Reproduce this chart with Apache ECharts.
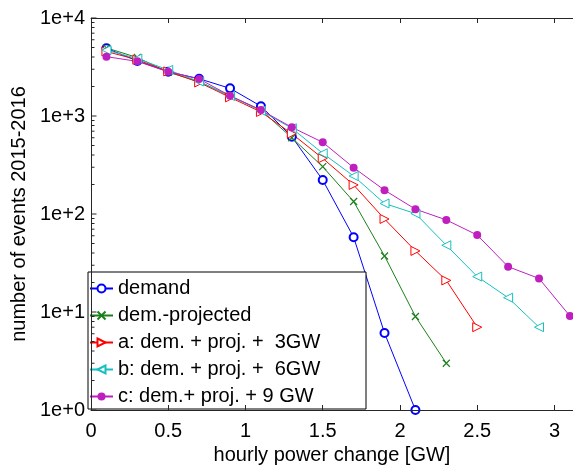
<!DOCTYPE html>
<html>
<head>
<meta charset="utf-8">
<script src="https://cdn.jsdelivr.net/npm/echarts@6/dist/echarts.min.js"></script>
<style>html,body{margin:0;padding:0;background:#fff}#c{width:573px;height:465px}</style>
</head>
<body>
<div id="c"></div>
<script>
var xValues = [0.1, 0.3, 0.5, 0.7, 0.9, 1.1, 1.3, 1.5, 1.7, 1.9, 2.1, 2.3, 2.5, 2.7, 2.9, 3.1];
var seriesNames = ['demand', 'dem.-projected', 'a: dem. + proj. +  3GW', 'b: dem. + proj. +  6GW', 'c: dem.+ proj. + 9 GW'];
var demand = [4900, 3650, 2830, 2400, 1915, 1260, 615, 222, 58, 6.1, 1];
var demProjected = [4950, 3950, 2800, 2240, 1600, 1150, 600, 304, 134, 37.3, 9.0, 3.0];
var scenarioA = [4550, 3750, 2850, 2200, 1550, 1100, 660, 370, 198, 89, 42, 21, 7.0];
var scenarioB = [4700, 3850, 2950, 2250, 1600, 1130, 750, 416, 244, 128, 101, 48, 23, 14, 7.0];
var scenarioC = [4030, 3610, 2830, 2390, 1610, 1150, 767, 539, 297, 175, 112, 87, 61, 29, 22, 9.1];
var yMajorTicks = [1, 10, 100, 1000, 10000];
var yMinorTicks = [2,3,4,5,6,7,8,9,20,30,40,50,60,70,80,90,200,300,400,500,600,700,800,900,2000,3000,4000,5000,6000,7000,8000,9000];

function pairs(vals) {
  return vals.map(function (v, i) { return [xValues[i], v]; });
}
var FONT = 'Liberation Sans';
var AX = '#262626';
var XMAX = 3.12;
var chart = echarts.init(document.getElementById('c'), null, {renderer: 'canvas'});

function mk(name, vals, color, symbol, size, itemStyle) {
  return {
    name: name, type: 'line', data: pairs(vals), xAxisIndex: 0, yAxisIndex: 0,
    symbol: symbol, symbolSize: size, showAllSymbol: true,
    lineStyle: {color: color, width: 1},
    itemStyle: itemStyle,
    emphasis: {disabled: true}, animation: false, clip: false, z: 3
  };
}
function tickSeries(vals, len) {
  return {
    type: 'scatter', xAxisIndex: 0, yAxisIndex: 0, z: 10, silent: true, clip: false,
    data: vals.map(function (v) { return [0, v]; }),
    symbol: 'rect', symbolSize: [len, 1], symbolOffset: [len / 2 + 0.5, 0],
    itemStyle: {color: AX, opacity: 1},
    emphasis: {disabled: true}, animation: false
  };
}

var option = {
  animation: false,
  grid: {left: 91, right: 0, top: 18, bottom: 55, outerBoundsMode: 'none', containLabel: false},
  xAxis: [{
    type: 'value', min: 0, max: XMAX, interval: 0.5, position: 'bottom', z: 10,
    name: 'hourly power change [GW]', nameLocation: 'middle', nameGap: 35,
    nameTextStyle: {fontFamily: FONT, fontSize: 20, color: '#000'},
    axisLine: {show: true, onZero: false, lineStyle: {color: AX, width: 1}},
    axisTick: {show: true, inside: true, length: 5, lineStyle: {color: AX}},
    axisLabel: {fontFamily: FONT, fontSize: 20, color: '#000', margin: 11, showMaxLabel: false},
    splitLine: {show: false}
  }, {
    type: 'value', min: 0, max: XMAX, interval: 0.5, position: 'top', z: 10,
    axisLine: {show: true, onZero: false, lineStyle: {color: AX, width: 1}},
    axisTick: {show: true, inside: true, length: 5, lineStyle: {color: AX}},
    axisLabel: {show: false},
    splitLine: {show: false}
  }],
  yAxis: [{
    type: 'log', logBase: 10, min: 1, max: 10000, position: 'left', z: 10,
    name: 'number of events 2015-2016', nameLocation: 'middle', nameGap: 62, nameRotate: 90,
    nameTextStyle: {fontFamily: FONT, fontSize: 20, color: '#000'},
    axisLine: {show: true, lineStyle: {color: AX, width: 1}},
    axisTick: {show: false},
    axisLabel: {fontFamily: FONT, fontSize: 20, color: '#000', margin: 6,
      formatter: function (v) { return '1e+' + Math.round(Math.log10(v)); }},
    splitLine: {show: false}
  }],
  legend: {
    left: 88, top: 272, orient: 'vertical', z: 6,
    padding: [5, 0, 0, 1], itemGap: 4, itemWidth: 23, itemHeight: 10,
    textStyle: {fontFamily: FONT, fontSize: 20, color: '#000', lineHeight: 23},
    selectedMode: false,
    data: seriesNames
  },
  graphic: [{
    type: 'rect', z: 5, silent: true,
    shape: {x: 88, y: 272, width: 278, height: 137},
    style: {fill: '#fff', stroke: '#000', lineWidth: 1}
  }],
  series: [
    mk(seriesNames[0], demand, '#0000ff', 'emptyCircle', 8, {color: '#0000ff', borderColor: '#0000ff', borderWidth: 1}),
    mk(seriesNames[1], demProjected, '#1a801a', 'path://M0,0L10,10M10,0L0,10', 7, {color: '#1a801a', borderColor: '#1a801a', borderWidth: 1.2}),
    mk(seriesNames[2], scenarioA, '#ff0000', 'path://M0,0L10,5L0,10Z', 9, {color: '#fff', borderColor: '#ff0000', borderWidth: 1}),
    mk(seriesNames[3], scenarioB, '#17bfbf', 'path://M10,0L0,5L10,10Z', 9, {color: '#fff', borderColor: '#17bfbf', borderWidth: 1}),
    mk(seriesNames[4], scenarioC, '#bf1fbf', 'circle', 8, {color: '#bf1fbf'}),
    tickSeries(yMajorTicks, 5),
    tickSeries(yMinorTicks, 3)
  ]
};
chart.setOption(option);
</script>
</body>
</html>
